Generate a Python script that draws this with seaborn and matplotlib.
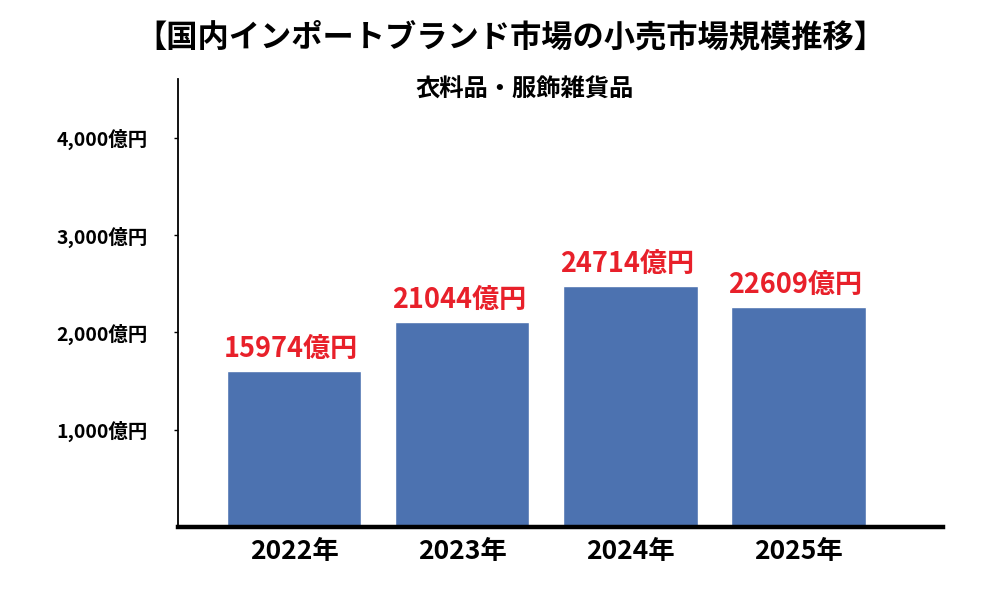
import matplotlib
matplotlib.use("Agg")
import matplotlib.pyplot as plt
import seaborn as sns
import pandas as pd

years = ["2022年", "2023年", "2024年", "2025年"]
values = [15974, 21044, 24714, 22609]
value_labels = ["15974億円", "21044億円", "24714億円", "22609億円"]
ytick_values = [10000, 20000, 30000, 40000]
ytick_labels = ["1,000億円", "2,000億円", "3,000億円", "4,000億円"]
title = "【国内インポートブランド市場の小売市場規模推移】"
subtitle = "衣料品・服飾雑貨品"

sns.set_theme(style="white")
plt.rcParams["font.family"] = ["Noto Sans CJK JP", "DejaVu Sans"]

df = pd.DataFrame({"year": years, "value": values})

fig = plt.figure(figsize=(10, 6), dpi=100)
ax = fig.add_axes([0.178, 0.1217, 0.765, 0.7463])

sns.barplot(data=df, x="year", y="value", color="#4C72B0", saturation=1,
            width=0.8, ax=ax)

ax.set_ylim(0, 46000)
ax.set_xlim(-0.69, 3.86)
ax.set_yticks(ytick_values)
ax.set_yticklabels(ytick_labels, fontsize=14, fontweight="bold")
ax.set_xticks(range(len(years)))
ax.set_xticklabels(years, fontsize=19, fontweight="bold")
ax.set_xlabel("")
ax.set_ylabel("")

ax.tick_params(axis="y", left=True, length=3, width=1, pad=19, colors="black")
ax.tick_params(axis="x", bottom=False, length=0, pad=8, colors="black")

for s in ["top", "right"]:
    ax.spines[s].set_visible(False)
ax.spines["left"].set_color("black")
ax.spines["left"].set_linewidth(1.3)
ax.spines["bottom"].set_color("black")
ax.spines["bottom"].set_linewidth(3.2)

for i, (v, lab) in enumerate(zip(values, value_labels)):
    ax.annotate(lab, xy=(i, v), xytext=(-2, 6), textcoords="offset points",
                ha="center", va="bottom", fontsize=19.5, fontweight="bold",
                color="#E8202A")

fig.text(0.51, 0.937, title, ha="center", va="center", fontsize=22.5,
         fontweight="bold", color="black")
fig.text(0.525, 0.85, subtitle, ha="center", va="center", fontsize=17.5,
         fontweight="bold", color="black")

fig.savefig("out.png", dpi=100)
